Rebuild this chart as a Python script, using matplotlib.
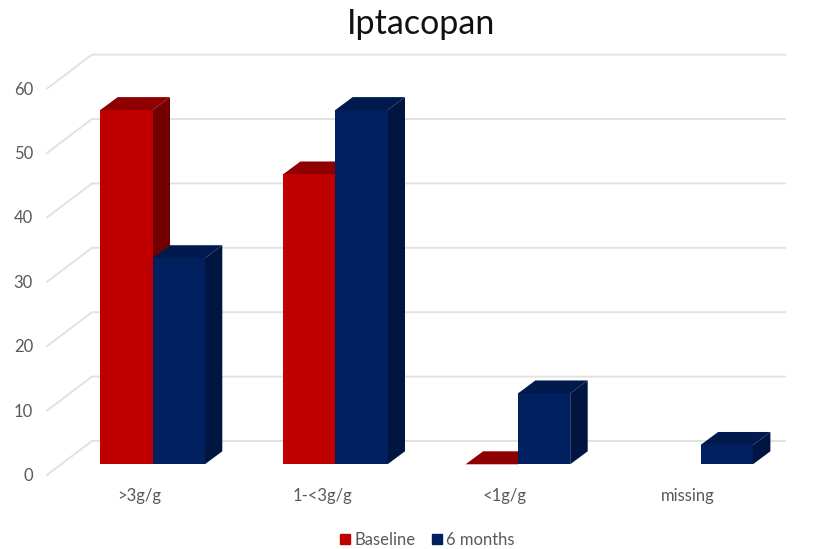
import numpy as np
import matplotlib
matplotlib.use('Agg')
import matplotlib.pyplot as plt
from matplotlib.patches import Patch

categories = ['>3g/g', '1-<3g/g', '<1g/g', 'missing']
baseline = [55, 45, 0, np.nan]
months6 = [32, 55, 11, 3]
yticks = [0, 10, 20, 30, 40, 50, 60]

plt.rcParams['font.family'] = ['Lato', 'DejaVu Sans']

W, H = 813, 549
fig = plt.figure(figsize=(W / 100, H / 100), dpi=100)
# axes spans the front floor: category 0 centred at pixel 152.5, value 0 at pixel 464.3
px_x = 182.7
px_y = 6.44
left, right = 47, 813
bottom, top = 464.3, 464.3 - 60 * px_y
ax = fig.add_axes([left / W, 1 - bottom / H, (right - left) / W, (bottom - top) / H])
ax.set_xlim((left - 152.5) / px_x, (right - 152.5) / px_x)
ax.set_ylim(0, 60)
ax.axis('off')

bw = 52.3 / px_x
dx = 17.5 / px_x
dy = 13 / px_y
gx = 45 / px_x
gy0 = -10.7 / px_y
gy1 = 23.3 / px_y
xmin = ax.get_xlim()[0]
xmax = ax.get_xlim()[1]

# floor and back gridlines
for v in yticks:
    ax.plot([xmin, xmin + gx, xmax - 28 / px_x], [v + gy0, v + gy1, v + gy1], color='#E2E2E2', lw=1.4,
            clip_on=False, zorder=1, solid_joinstyle='miter')
    ax.annotate(str(v), xy=(xmin, v + gy0), xytext=(-14, -1), textcoords='offset pixels',
                ha='right', va='center', fontsize=12, color='#595959', annotation_clip=False)


def box(x, v, front, topc, side, z):
    if np.isnan(v):
        return
    ax.fill([x + bw, x + bw + dx, x + bw + dx, x + bw], [0, dy, v + dy, v], color=side, lw=0, clip_on=False, zorder=z)
    ax.fill([x, x + dx, x + bw + dx, x + bw], [v, v + dy, v + dy, v], color=topc, lw=0, clip_on=False, zorder=z)
    ax.fill([x, x + bw, x + bw, x], [0, 0, v, v], color=front, lw=0, clip_on=False, zorder=z)


for i in range(len(categories)):
    box(i - bw, baseline[i], '#C00000', '#8F0000', '#730000', 2 + i)
    box(i, months6[i], '#002060', '#001A4E', '#00153F', 2.5 + i)
    ax.annotate(categories[i], xy=(i, 0), xytext=(-13, -32), textcoords='offset pixels',
                ha='center', va='center', fontsize=12, color='#595959', annotation_clip=False)

fig.text(421.5 / W, 1 - 24 / H, 'Iptacopan', ha='center', va='center', fontsize=24.5, color='#111111')

handles = [Patch(color='#C00000', label='Baseline'), Patch(color='#002060', label='6 months')]
fig.legend(handles=handles, loc='center', bbox_to_anchor=(427.5 / W, 1 - 540 / H), ncol=2, frameon=False,
           fontsize=12, labelcolor='#595959', handlelength=0.6, handleheight=0.6, handletextpad=0.25,
           columnspacing=1.0)

fig.savefig('out.png', dpi=100)
